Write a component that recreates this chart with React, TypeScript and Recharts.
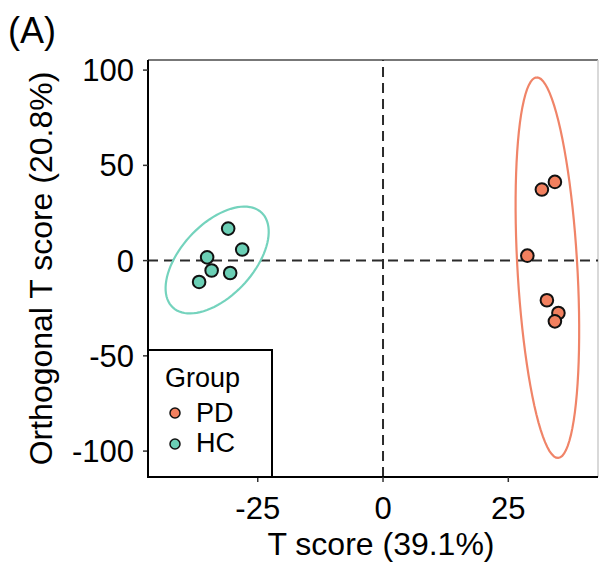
import React from "react";
import {
  ScatterChart,
  Scatter,
  XAxis,
  YAxis,
  ReferenceLine,
  Legend,
} from "recharts";

const FONT = '"Liberation Sans", Arial, sans-serif';

// OPLS-DA scores
const pdPoints = [
  { x: 34.3, y: 41.3 },
  { x: 31.7, y: 37.3 },
  { x: 28.8, y: 2.6 },
  { x: 32.7, y: -20.8 },
  { x: 35.0, y: -27.5 },
  { x: 34.3, y: -31.9 },
];

const hcPoints = [
  { x: -30.9, y: 16.8 },
  { x: -28.1, y: 5.8 },
  { x: -35.1, y: 1.7 },
  { x: -34.2, y: -5.2 },
  { x: -30.5, y: -6.5 },
  { x: -36.7, y: -11.2 },
];

const groupOrder = ["PD", "HC"];

// confidence ellipses: centre + two semi-axis vectors, in data units
const pdEllipse = { cx: 32.8, cy: -3.7, ax: -2.15, ay: 99.9, bx: 5.97, by: 0.89 };
const hcEllipse = { cx: -33.1, cy: 0.3, ax: 8.85, ay: 24.9, bx: -5.25, by: 12.9 };

const xTicks = [-25, 0, 25];
const yTicks = [-100, -50, 0, 50, 100];
const xDomain: [number, number] = [-46.9, 42.9];
const yDomain: [number, number] = [-113.6, 105.3];

const PD_FILL = "#F2805F";
const PD_LINE = "#F08468";
const HC_FILL = "#6BCFB5";
const HC_LINE = "#74D3BD";

function outline(e: typeof pdEllipse) {
  const pts = [];
  for (let i = 0; i <= 90; i++) {
    const t = (i / 90) * Math.PI * 2;
    pts.push({
      x: e.cx + e.ax * Math.cos(t) + e.bx * Math.sin(t),
      y: e.cy + e.ay * Math.cos(t) + e.by * Math.sin(t),
    });
  }
  return pts;
}

const dot = (fill: string) => (p: any) =>
  <circle cx={p.cx} cy={p.cy} r={6.3} fill={fill} stroke="#111" strokeWidth={2} />;

const noShape = () => <g />;

function GroupLegend(props: any) {
  const items = (props.payload || [])
    .filter((p: any) => p.type !== "none")
    .sort((a: any, b: any) => groupOrder.indexOf(a.value) - groupOrder.indexOf(b.value));
  return (
    <svg width={127} height={130} style={{ display: "block" }}>
      <rect x={1} y={1} width={124} height={127} fill="#fff" stroke="#000" strokeWidth={2} />
      <text x={18} y={38} fontSize={27} fontFamily={FONT} fill="#000">
        Group
      </text>
      {items.map((it: any, i: number) => (
        <g key={it.value}>
          <circle cx={28} cy={64 + i * 31} r={5} fill={it.color} stroke="#111" strokeWidth={1.5} />
          <text x={49} y={73 + i * 30} fontSize={27} fontFamily={FONT} fill="#000">
            {it.value}
          </text>
        </g>
      ))}
    </svg>
  );
}

export default function App() {
  return (
    <div style={{ position: "absolute", left: 0, top: 0, width: 600, height: 562, background: "#fff" }}>
      <div
        style={{
          position: "absolute",
          left: 8,
          top: 13,
          fontSize: 36,
          lineHeight: "36px",
          fontFamily: FONT,
          color: "#000",
          zIndex: 2,
        }}
      >
        (A)
      </div>
      <ScatterChart width={600} height={562} margin={{ top: 60, right: 2, bottom: 0, left: 0 }}>
        <XAxis
          type="number"
          dataKey="x"
          domain={xDomain}
          ticks={xTicks}
          allowDataOverflow
          height={85}
          tickSize={5}
          tickMargin={15}
          axisLine={{ stroke: "#000", strokeWidth: 2 }}
          tickLine={{ stroke: "#333", strokeWidth: 1.5 }}
          tick={{ fontSize: 31, fill: "#000", fontFamily: FONT }}
          label={{
            value: "T score (39.1%)",
            position: "insideBottom",
            offset: 7,
            dx: 8,
            fontSize: 32,
            fill: "#000",
            fontFamily: FONT,
          }}
        />
        <YAxis
          type="number"
          dataKey="y"
          domain={yDomain}
          ticks={yTicks}
          allowDataOverflow
          width={148}
          tickSize={5}
          tickMargin={9}
          axisLine={{ stroke: "#000", strokeWidth: 2 }}
          tickLine={{ stroke: "#333", strokeWidth: 1.5 }}
          tick={{ fontSize: 31, fill: "#000", fontFamily: FONT }}
          label={{
            value: "Orthogonal T score (20.8%)",
            position: "insideLeft",
            angle: -90,
            offset: 41,
            fontSize: 32,
            fill: "#000",
            fontFamily: FONT,
            style: { textAnchor: "middle" },
          }}
        />
        <ReferenceLine y={yDomain[1]} stroke="#777" strokeWidth={2} />
        <ReferenceLine x={xDomain[1]} stroke="#ccc" strokeWidth={1.5} />
        <ReferenceLine x={0} stroke="#2b2b2b" strokeWidth={2} strokeDasharray="10 6" />
        <ReferenceLine y={0} stroke="#2b2b2b" strokeWidth={2} strokeDasharray="10 6" />
        <Scatter
          data={outline(pdEllipse)}
          line={{ stroke: PD_LINE, strokeWidth: 2.2 }}
          shape={noShape}
          legendType="none"
          isAnimationActive={false}
        />
        <Scatter
          data={outline(hcEllipse)}
          line={{ stroke: HC_LINE, strokeWidth: 2.2 }}
          shape={noShape}
          legendType="none"
          isAnimationActive={false}
        />
        <Scatter name="PD" data={pdPoints} fill={PD_FILL} shape={dot(PD_FILL)} isAnimationActive={false} />
        <Scatter name="HC" data={hcPoints} fill={HC_FILL} shape={dot(HC_FILL)} isAnimationActive={false} />
        <Legend
          layout="vertical"
          align="center"
          verticalAlign="middle"
          content={GroupLegend}
          wrapperStyle={{ left: 147, top: 349, width: 127, height: 130 }}
        />
      </ScatterChart>
    </div>
  );
}
